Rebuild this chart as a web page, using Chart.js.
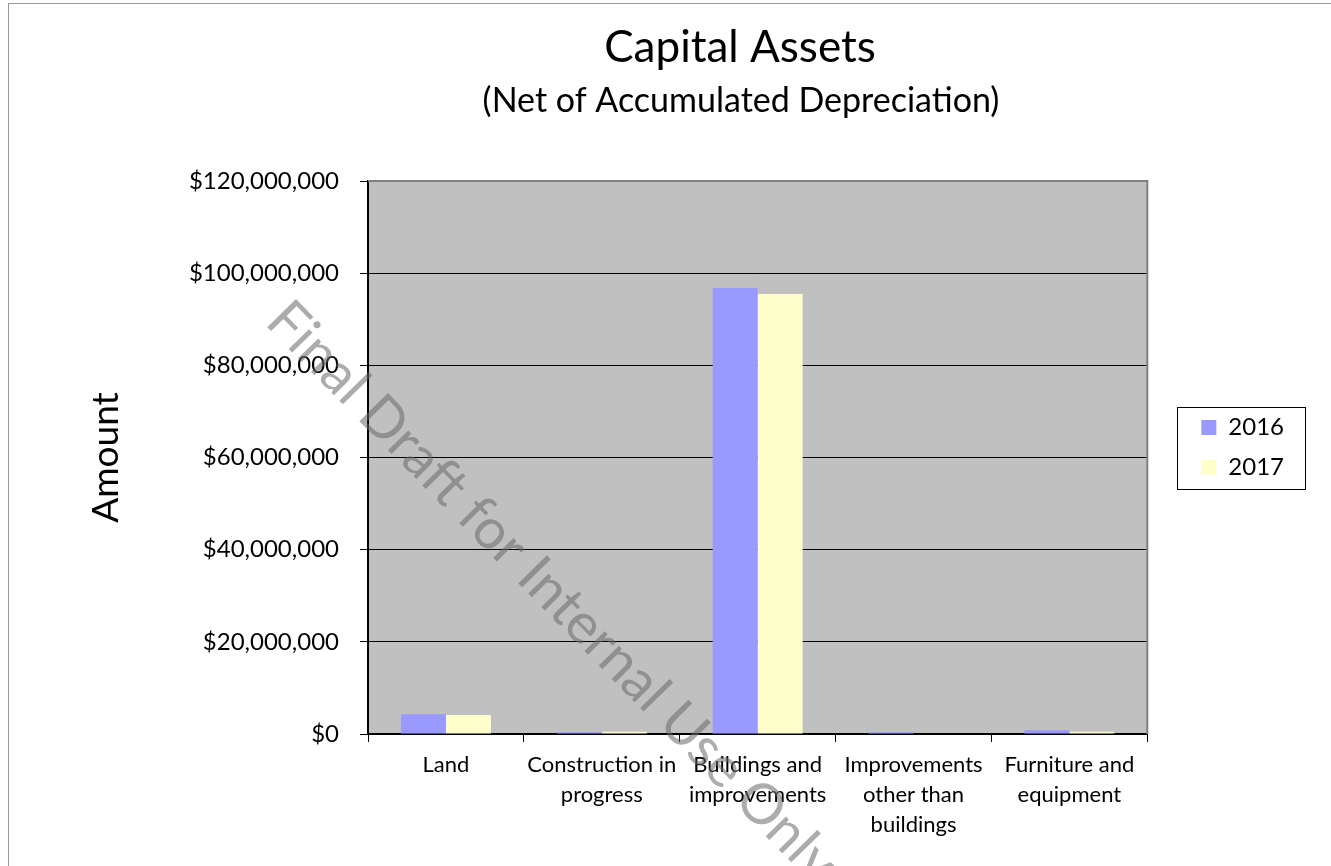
<!DOCTYPE html>
<html>
<head>
<meta charset="utf-8">
<script src="https://cdn.jsdelivr.net/npm/chart.js@4.4.1/dist/chart.umd.min.js"></script>
<style>
  html, body { margin: 0; padding: 0; background: #fff; }
  #wrap { position: relative; width: 1331px; height: 866px; }
  #frame { position: absolute; left: 8px; top: 3px; right: 0; bottom: 0; border-top: 1px solid #999; border-left: 1px solid #999; }
  canvas { position: absolute; left: 0; top: 0; }
</style>
</head>
<body>
<div id="wrap">
  <div id="frame"></div>
  <canvas id="assetsChart" width="1331" height="866"></canvas>
</div>
<script>
// Adatok
const categories = [
    'Land',
    ['Construction in', 'progress'],
    ['Buildings and', 'improvements'],
    ['Improvements', 'other than', 'buildings'],
    ['Furniture and', 'equipment']
];
const seriesNames = ['2016', '2017'];
const values2016 = [4300000, 400000, 96800000, 400000, 800000];
const values2017 = [4100000, 500000, 95500000, 100000, 500000];
const yTicks = [0, 20000000, 40000000, 60000000, 80000000, 100000000, 120000000];

const FONT = 'Lato, "Open Sans", sans-serif';

// Háttér, keret, címek, vízjel
const decorPlugin = {
    id: 'decor',
    afterUpdate(chart) {
        // jelmagyarázat eltolása
        const lg = chart.legend;
        lg.left += 38; lg.right += 38;
        lg.top -= 10; lg.bottom -= 10;
        lg.adjustHitBoxes();
    },
    beforeDraw(chart) {
        const { ctx, chartArea: a } = chart;
        ctx.save();
        ctx.fillStyle = '#C0C0C0';
        ctx.fillRect(a.left, a.top, a.right - a.left, a.bottom - a.top);
        ctx.restore();
    },
    beforeDatasetsDraw(chart) {
        const { ctx, chartArea: a } = chart;
        ctx.save();
        ctx.strokeStyle = '#808080';
        ctx.lineWidth = 2;
        ctx.beginPath();
        ctx.moveTo(a.left, a.top);
        ctx.lineTo(a.right, a.top);
        ctx.lineTo(a.right, a.bottom);
        ctx.stroke();
        ctx.restore();
    },
    afterDraw(chart) {
        const { ctx } = chart;
        const lg = chart.legend;
        ctx.save();
        // címek
        ctx.fillStyle = '#000';
        ctx.textAlign = 'center';
        ctx.textBaseline = 'middle';
        ctx.font = '44px ' + FONT;
        ctx.fillText('Capital Assets', 740, 48);
        ctx.font = '34px ' + FONT;
        ctx.fillText('(Net of Accumulated Depreciation)', 741, 101);

        // jelmagyarázat kerete
        const bx = Math.round(lg.left + 16 - 24);
        const by = Math.round((lg.top + lg.bottom) / 2 - 41);
        ctx.strokeStyle = '#000';
        ctx.lineWidth = 1;
        ctx.strokeRect(bx + 0.5, by + 0.5, 128, 82);

        // vízjel
        ctx.translate(552, 592);
        ctx.rotate(45.6 * Math.PI / 180);
        ctx.font = '56px ' + FONT;
        ctx.fillStyle = 'rgba(103,103,103,0.55)';
        ctx.fillText('Final Draft for Internal Use Only', 0, 0);
        ctx.restore();
    }
};

const ctx = document.getElementById('assetsChart').getContext('2d');
new Chart(ctx, {
    type: 'bar',
    data: {
        labels: categories,
        datasets: [{
            label: seriesNames[0],
            data: values2016,
            backgroundColor: '#9999FF',
            borderWidth: 0
        }, {
            label: seriesNames[1],
            data: values2017,
            backgroundColor: '#FFFFCC',
            borderWidth: 0
        }]
    },
    options: {
        responsive: false,
        animation: false,
        devicePixelRatio: 1,
        layout: {
            padding: { top: 181, left: 84, right: 75, bottom: 0 }
        },
        datasets: {
            bar: {
                barPercentage: 1,
                categoryPercentage: 0.577
            }
        },
        plugins: {
            legend: {
                position: 'right',
                fullSize: false,
                labels: {
                    font: { family: FONT, size: 24 },
                    color: '#000',
                    boxWidth: 15,
                    boxHeight: 15,
                    padding: 16
                }
            },
            tooltip: { enabled: false }
        },
        scales: {
            x: {
                afterFit(scale) { scale.height = 132; },
                grid: {
                    drawOnChartArea: false,
                    drawTicks: true,
                    tickLength: 8,
                    color: '#000'
                },
                border: { display: true, color: '#000', width: 2 },
                ticks: {
                    color: '#000',
                    font: { family: FONT, size: 22, lineHeight: 1.36 },
                    autoSkip: false,
                    maxRotation: 0,
                    padding: 8
                }
            },
            y: {
                min: 0,
                max: 120000000,
                afterFit(scale) { scale.width = 368 - 84; },
                afterBuildTicks(scale) {
                    scale.ticks = yTicks.map(v => ({ value: v }));
                },
                grid: {
                    color: '#000',
                    lineWidth: 1,
                    tickLength: 8
                },
                border: { display: true, color: '#000', width: 2 },
                ticks: {
                    color: '#000',
                    font: { family: FONT, size: 24 },
                    padding: 21,
                    callback: v => '$' + v.toLocaleString('en-US')
                },
                title: {
                    display: true,
                    text: 'Amount',
                    color: '#000',
                    font: { family: FONT, size: 37 },
                    padding: 0
                }
            }
        }
    },
    plugins: [decorPlugin]
});
</script>
</body>
</html>
